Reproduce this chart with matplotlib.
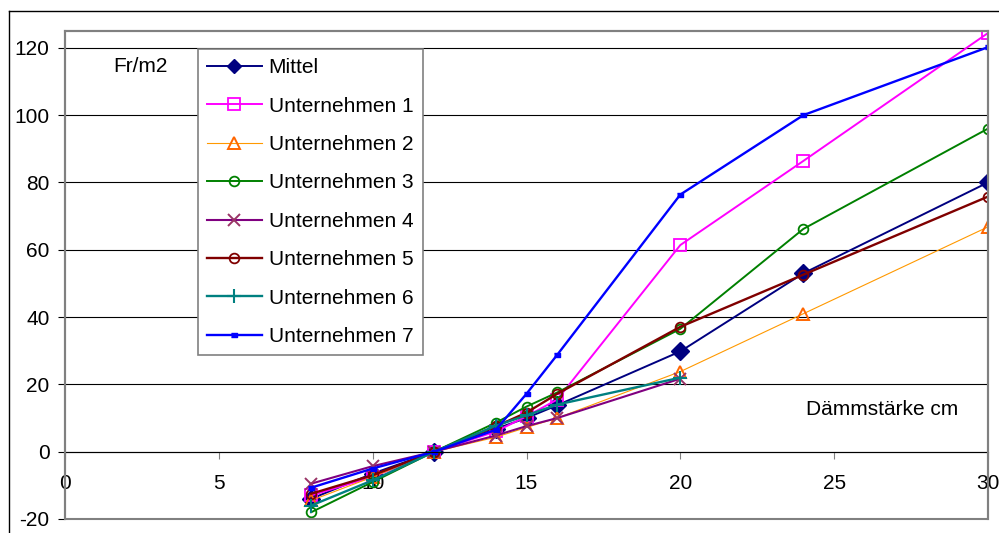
import matplotlib.pyplot as plt
from matplotlib.patches import Rectangle
from matplotlib.lines import Line2D

plt.rcParams['font.family'] = ['Liberation Sans', 'DejaVu Sans']
plt.rcParams['axes.unicode_minus'] = False

# Dämmstärke (cm) and cost per m2
x_all = [8, 10, 12, 14, 15, 16, 20, 24, 30]
x_short = [8, 10, 12, 14, 15, 16, 20]

mittel = [-14, -6.5, 0, 6.8, 10, 13.8, 29.8, 53, 80]
u1 = [-13, -7.5, 0, 6, 10.5, 15.5, 61.4, 86.4, 124.4]
u2 = [-14.5, -7.5, 0, 4.3, 7.2, 10, 23.8, 41, 66.8]
u3 = [-18, -9, 0, 8.6, 13.4, 17.6, 36.5, 66.2, 96]
u4 = [-9.5, -4.3, 0, 4.8, 7.6, 10, 21.7]
u5 = [-12.5, -7, 0, 7.5, 11.6, 17.2, 37.1, 52.6, 75.8]
u6 = [-16, -8.5, 0, 7.7, 10.8, 14, 22]
u7 = [-10.7, -5, 0, 6.5, 17.2, 28.8, 76.4, 100, 120.2]

x_ticks = [0, 5, 10, 15, 20, 25, 30]
y_ticks = [-20, 0, 20, 40, 60, 80, 100, 120]

W, H = 999, 533
fig = plt.figure(figsize=(W / 100, H / 100), dpi=100)
ax = fig.add_axes([65 / W, 1 - 519 / H, (988 - 65) / W, (519 - 31) / H])

# outer chart border (cut off at right and bottom)
fig.add_artist(Line2D([9 / W, 1.0], [1 - 11 / H] * 2, color='black', lw=1,
                      transform=fig.transFigure))
fig.add_artist(Line2D([9 / W] * 2, [1 - 11 / H, 0], color='black', lw=1,
                      transform=fig.transFigure))

for yv in y_ticks[1:]:
    ax.axhline(yv, color='black', lw=0.8, zorder=1)

dash = [(-1, -0.5), (1, -0.5), (1, 0.5), (-1, 0.5)]

ax.plot(x_all, mittel, color='#000080', lw=1.4, marker='D', ms=9,
        mfc='#000080', mec='#000080', label='Mittel')
ax.plot(x_all, u1, color='#FF00FF', lw=1.4, marker='s', ms=8,
        mfc='none', mec='#FF00FF', mew=1.3, label='Unternehmen 1')
ax.plot(x_all, u2, color='#FF9900', lw=0.8, marker='^', ms=8,
        mfc='none', mec='#FF6600', mew=1.4, label='Unternehmen 2')
ax.plot(x_all, u3, color='#008000', lw=1.4, marker='o', ms=7,
        mfc='none', mec='#008000', mew=1.3, label='Unternehmen 3')
ax.plot(x_short, u4, color='#800080', lw=1.5, marker='x', ms=9,
        mec='#993366', mew=1.4, label='Unternehmen 4')
ax.plot(x_all, u5, color='#800000', lw=1.7, marker='o', ms=7,
        mfc='none', mec='#800000', mew=1.3, label='Unternehmen 5')
ax.plot(x_short, u6, color='#008080', lw=1.7, marker='+', ms=10,
        mec='#008080', mew=1.5, label='Unternehmen 6')
ax.plot(x_all, u7, color='#0000FF', lw=1.7, marker=dash, ms=5,
        mfc='#0000FF', mec='#0000FF', label='Unternehmen 7')

ax.set_xlim(0, 30)
ax.set_ylim(-20, 125)
ax.set_xticks(x_ticks)
ax.set_yticks(y_ticks)

for s in ['top', 'right', 'left']:
    ax.spines[s].set_color('#808080')
    ax.spines[s].set_linewidth(1.5)
ax.spines['bottom'].set_position(('data', 0))
ax.spines['bottom'].set_color('black')
ax.spines['bottom'].set_linewidth(0.8)
ax.add_patch(Rectangle((0, 0), 1, 1, transform=ax.transAxes, fill=False,
                       edgecolor='#808080', lw=1.5, clip_on=False, zorder=5))

ax.tick_params(axis='x', direction='out', length=5, width=0.8, pad=11,
               labelsize=15, color='#808080')
ax.tick_params(axis='y', direction='out', length=5, width=0.8, pad=6,
               labelsize=15)

ax.text(2.44, 114.5, 'Fr/m2', fontsize=15, ha='center', va='center')
ax.text(26.55, 12.5, 'Dämmstärke cm', fontsize=15, ha='center', va='center')

leg = ax.legend(loc='upper left', bbox_to_anchor=(198 / W, 1 - 49 / H),
                bbox_transform=fig.transFigure, fontsize=15, frameon=True,
                fancybox=False, framealpha=1, edgecolor='#808080',
                borderaxespad=0, borderpad=0.45, handlelength=2.6,
                handletextpad=0.34, labelspacing=0.93)
leg.get_frame().set_linewidth(1.2)
leg.legend_handles[0].set_markersize(7)
leg.set_zorder(10)

fig.savefig('out.png', dpi=100)
